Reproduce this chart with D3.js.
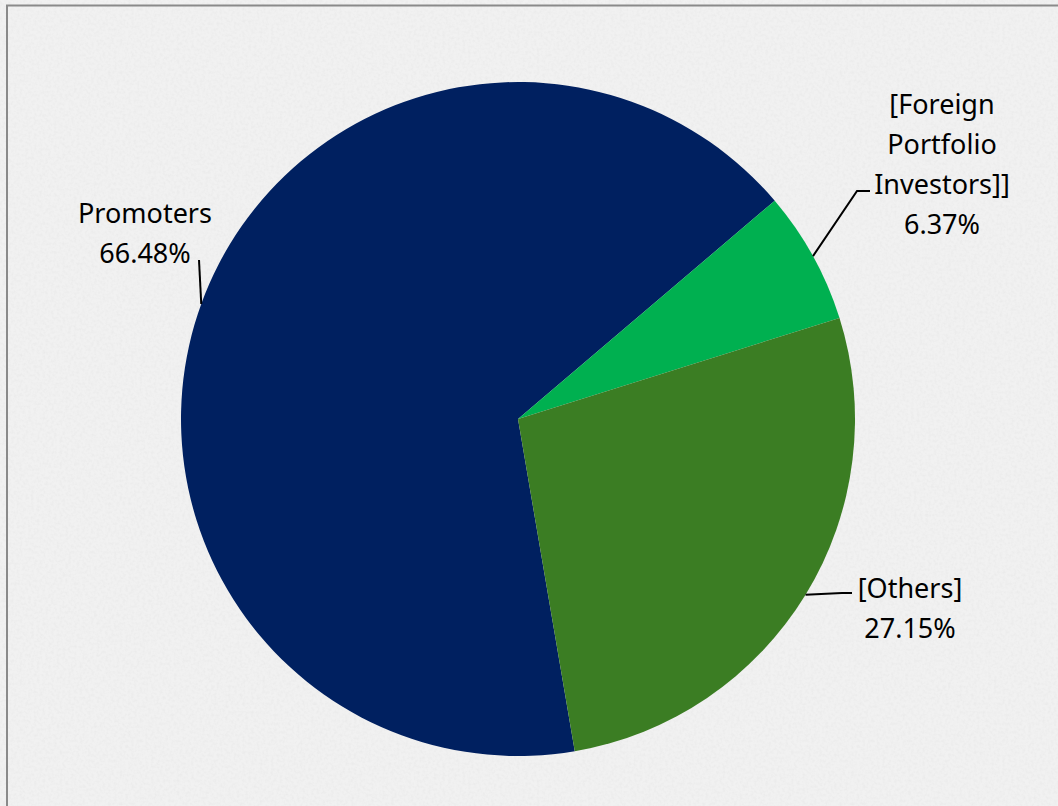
<!DOCTYPE html>
<html>
<head>
<meta charset="utf-8">
<script src="https://cdn.jsdelivr.net/npm/d3@7"></script>
<style>
  html, body { margin: 0; padding: 0; background: #f1f1f1; overflow: hidden; }
  svg text { font-family: "Noto Sans", "Open Sans", sans-serif; fill: #000; }
</style>
</head>
<body>
<div id="chart"></div>
<script>
// data
const categories = ["Promoters", "[Foreign Portfolio Investors]]", "[Others]"];
const shares = [66.48, 6.37, 27.15];
const colors = ["#002060", "#00b050", "#3b7d23"];

// label lines (text wrapping as in the picture)
const labelLines = [
  ["Promoters"],
  ["[Foreign", "Portfolio", "Investors]]"],
  ["[Others]"]
];

const width = 1058, height = 806;
const cx = 518, cy = 419, radius = 337;
const startDeg = 170.3;

// where each label block sits and where its leader line bends
const labelLayout = [
  { x: 145, y: 223, elbow: null, end: [199, 260] },
  { x: 942, y: 114, elbow: [857, 191], end: [870, 191] },
  { x: 910, y: 598, elbow: [842, 593], end: [852, 593] }
];
const lineHeight = 40;

const svg = d3.select("#chart").append("svg")
  .attr("width", width)
  .attr("height", height);

// paper-like texture
const defs = svg.append("defs");
const filt = defs.append("filter").attr("id", "paper")
  .attr("x", 0).attr("y", 0).attr("width", "100%").attr("height", "100%");
filt.append("feTurbulence").attr("type", "fractalNoise")
  .attr("baseFrequency", 0.35).attr("numOctaves", 2).attr("seed", 3).attr("result", "n");
filt.append("feColorMatrix").attr("in", "n").attr("type", "matrix")
  .attr("values", "0 0 0 0 0.5  0 0 0 0 0.5  0 0 0 0 0.5  0.9 0 0 0 -0.35");

svg.append("rect").attr("width", width).attr("height", height).attr("fill", "#f1f1f1");
svg.append("rect").attr("width", width).attr("height", height)
  .attr("filter", "url(#paper)").attr("opacity", 0.25);

// chart border (runs off the right and bottom of the window)
svg.append("rect")
  .attr("x", 7).attr("y", 5.5)
  .attr("width", width + 20).attr("height", height + 20)
  .attr("fill", "none")
  .attr("stroke", "#8a8a8a")
  .attr("stroke-width", 2);

const pie = d3.pie()
  .sort(null)
  .value(d => d)
  .startAngle(startDeg * Math.PI / 180)
  .endAngle(startDeg * Math.PI / 180 + 2 * Math.PI);

const arc = d3.arc().innerRadius(0).outerRadius(radius);

const arcs = pie(shares);

const g = svg.append("g").attr("transform", "translate(" + [cx, cy] + ")");

g.selectAll("path.slice")
  .data(arcs)
  .enter().append("path")
    .attr("class", "slice")
    .attr("d", arc)
    .attr("fill", (d, i) => colors[i]);

// leader lines from the rim at each slice's mid angle
const rimPoint = d => {
  const a = (d.startAngle + d.endAngle) / 2;
  return [cx + radius * Math.sin(a), cy - radius * Math.cos(a)];
};

arcs.forEach((d, i) => {
  const lay = labelLayout[i];
  const pts = [rimPoint(d)];
  if (lay.elbow) pts.push(lay.elbow);
  pts.push(lay.end);
  svg.append("path")
    .attr("d", d3.line()(pts))
    .attr("fill", "none")
    .attr("stroke", "#000")
    .attr("stroke-width", 2);
});

// labels
arcs.forEach((d, i) => {
  const lay = labelLayout[i];
  const lines = labelLines[i].concat([d3.format(".2f")(shares[i]) + "%"]);
  const t = svg.append("text")
    .attr("x", lay.x)
    .attr("y", lay.y)
    .attr("text-anchor", "middle")
    .style("font-size", "27px");
  lines.forEach((ln, j) => {
    t.append("tspan")
      .attr("x", lay.x)
      .attr("dy", j === 0 ? 0 : lineHeight)
      .text(ln);
  });
});
</script>
</body>
</html>
